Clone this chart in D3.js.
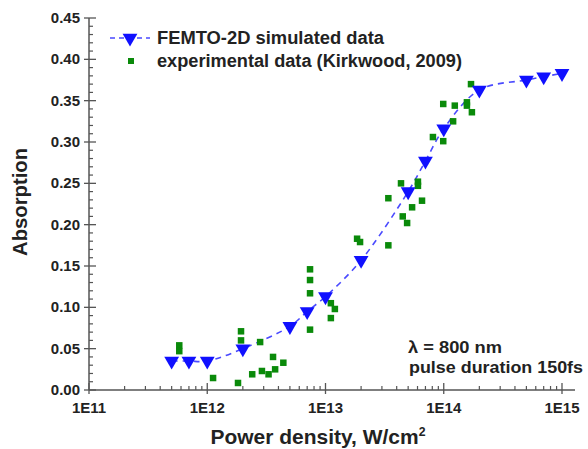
<!DOCTYPE html>
<html><head><meta charset="utf-8">
<script src="https://cdn.jsdelivr.net/npm/d3@7"></script>
<style>
body{margin:0;background:#fff;}
svg{display:block;font-family:"Liberation Sans",Arial,sans-serif;font-weight:bold;}
</style></head>
<body><svg id="c" width="588" height="449"></svg>
<script>
// FEMTO-2D simulated data
const simPower = [5e11, 7e11, 1e12, 2e12, 5e12, 7e12, 1e13, 2e13, 5e13, 7e13, 1e14, 2e14, 5e14, 7e14, 1e15];
const simAbs   = [0.035, 0.035, 0.035, 0.050, 0.077, 0.095, 0.113, 0.157, 0.240, 0.277, 0.316, 0.363, 0.375, 0.379, 0.383];
// experimental data (Kirkwood, 2009)
const expPower = [5.8e11, 5.8e11, 1.12e12, 1.82e12, 1.93e12, 1.93e12, 2.8e12, 3.6e12, 4.4e12, 2.4e12, 2.9e12, 3.3e12, 3.75e12,
                  7.4e12, 7.4e12, 7.4e12, 7.4e12, 1.11e13, 1.2e13, 1.11e13, 1.85e13, 1.96e13, 3.4e13, 3.4e13, 4.35e13,
                  6.05e13, 6.05e13, 6.55e13, 5.4e13, 4.5e13, 4.9e13, 1.7e14, 9.9e13, 1.24e14, 1.57e14, 1.57e14, 1.73e14,
                  1.2e14, 8.1e13, 9.9e13];
const expAbs   = [0.054, 0.047, 0.0145, 0.0085, 0.071, 0.060, 0.058, 0.040, 0.033, 0.019, 0.023, 0.019, 0.025,
                  0.146, 0.133, 0.117, 0.073, 0.105, 0.098, 0.087, 0.183, 0.179, 0.175, 0.232, 0.250,
                  0.252, 0.247, 0.229, 0.221, 0.210, 0.202, 0.370, 0.346, 0.344, 0.348, 0.344, 0.336,
                  0.325, 0.306, 0.301];
const xTicks = [1e11, 1e12, 1e13, 1e14, 1e15];
const xTickLabels = ["1E11", "1E12", "1E13", "1E14", "1E15"];
const yTicks = [0, 0.05, 0.10, 0.15, 0.20, 0.25, 0.30, 0.35, 0.40, 0.45];

const svg = d3.select("#c");
const x = d3.scaleLog().domain([1e11, 1e15]).range([89, 562]);
const y = d3.scaleLinear().domain([0, 0.45]).range([390, 18]);
const ink = "#222";

// axes
const g = svg.append("g");
g.append("line").attr("x1", 89).attr("x2", 575).attr("y1", 390).attr("y2", 390).attr("stroke", "#555").attr("stroke-width", 1.5);
g.append("line").attr("x1", 89).attr("x2", 89).attr("y1", 18).attr("y2", 390).attr("stroke", "#555").attr("stroke-width", 1.5);

// x minor ticks
const xMinor = [];
for (let d = 11; d < 15; d++) for (let m = 2; m <= 9; m++) xMinor.push(m * Math.pow(10, d));
g.selectAll(".xm").data(xMinor).join("line")
  .attr("x1", d => x(d)).attr("x2", d => x(d)).attr("y1", 390).attr("y2", 386)
  .attr("stroke", "#555").attr("stroke-width", 1.2);
g.selectAll(".xM").data(xTicks).join("line")
  .attr("x1", d => x(d)).attr("x2", d => x(d)).attr("y1", 383).attr("y2", 394)
  .attr("stroke", "#555").attr("stroke-width", 1.3);
g.selectAll(".xl").data(xTicks).join("text")
  .attr("x", d => x(d)).attr("y", 413).attr("text-anchor", "middle")
  .attr("font-size", 15).attr("fill", ink).text((d, i) => xTickLabels[i]);

// y ticks
const yMinor = d3.range(0, 46).map(i => i * 0.01).filter(v => Math.abs(v / 0.05 - Math.round(v / 0.05)) > 1e-6);
g.selectAll(".ym").data(yMinor).join("line")
  .attr("x1", 89).attr("x2", 93).attr("y1", d => y(d)).attr("y2", d => y(d))
  .attr("stroke", "#555").attr("stroke-width", 1.2);
g.selectAll(".yM").data(yTicks).join("line")
  .attr("x1", 84).attr("x2", 96).attr("y1", d => y(d)).attr("y2", d => y(d))
  .attr("stroke", "#555").attr("stroke-width", 1.3);
g.selectAll(".yl").data(yTicks).join("text")
  .attr("x", 80).attr("y", d => y(d) + 5).attr("text-anchor", "end")
  .attr("font-size", 15).attr("fill", ink).text(d => d.toFixed(2));

// titles
svg.append("text").attr("x", 318).attr("y", 444).attr("text-anchor", "middle")
  .attr("font-size", 20.5).attr("fill", ink)
  .attr("textLength", 215).attr("lengthAdjust", "spacingAndGlyphs")
  .html('Power density, W/cm<tspan dy="-8" font-size="12">2</tspan>');
svg.append("text").attr("transform", "translate(27,202) rotate(-90)").attr("text-anchor", "middle")
  .attr("font-size", 19.5).attr("fill", ink)
  .attr("textLength", 108).attr("lengthAdjust", "spacingAndGlyphs").text("Absorption");

// simulated curve
const simData = simPower.map((p, i) => [p, simAbs[i]]);
const line = d3.line().x(d => x(d[0])).y(d => y(d[1])).curve(d3.curveCatmullRom.alpha(0.5));
svg.append("path").datum(simData).attr("d", line).attr("fill", "none")
  .attr("stroke", "#4a4aff").attr("stroke-width", 1.6).attr("stroke-dasharray", "6,5");

// experimental squares
const sq = 6.5;
svg.selectAll(".e").data(expPower.map((p, i) => [p, expAbs[i]])).join("rect")
  .attr("x", d => x(d[0]) - sq / 2).attr("y", d => y(d[1]) - sq / 2)
  .attr("width", sq).attr("height", sq).attr("fill", "#0a8a0a");

// simulated triangles
const tri = d3.symbol().type(d3.symbolTriangle).size(95);
svg.selectAll(".s").data(simData).join("path")
  .attr("transform", d => `translate(${x(d[0])},${y(d[1])}) rotate(180)`)
  .attr("d", tri).attr("fill", "#1010ff");

// legend
svg.append("line").attr("x1", 110).attr("x2", 150).attr("y1", 38).attr("y2", 38)
  .attr("stroke", "#4a4aff").attr("stroke-width", 1.6).attr("stroke-dasharray", "5,4");
svg.append("path").attr("transform", "translate(130,38) rotate(180)").attr("d", tri).attr("fill", "#1010ff");
svg.append("rect").attr("x", 128).attr("y", 58).attr("width", 6).attr("height", 6).attr("fill", "#0a8a0a");
svg.append("text").attr("x", 157).attr("y", 44).attr("font-size", 17.5).attr("fill", ink)
  .attr("textLength", 227).attr("lengthAdjust", "spacingAndGlyphs").text("FEMTO-2D simulated data");
svg.append("text").attr("x", 157).attr("y", 67).attr("font-size", 17.5).attr("fill", ink)
  .attr("textLength", 305).attr("lengthAdjust", "spacingAndGlyphs").text("experimental data (Kirkwood, 2009)");

// annotation
svg.append("text").attr("x", 408).attr("y", 353).attr("font-size", 16.5).attr("fill", ink)
  .attr("textLength", 94).attr("lengthAdjust", "spacingAndGlyphs").text("λ = 800 nm");
svg.append("text").attr("x", 409).attr("y", 373).attr("font-size", 16.5).attr("fill", ink)
  .attr("textLength", 174).attr("lengthAdjust", "spacingAndGlyphs").text("pulse duration 150fs");
</script></body></html>
